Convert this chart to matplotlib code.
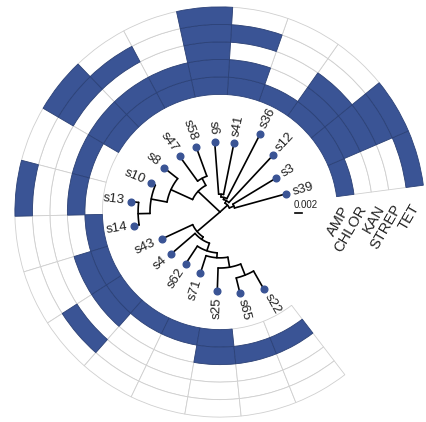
import numpy as np
import matplotlib
matplotlib.use('Agg')
import matplotlib.pyplot as plt
from matplotlib.patches import Wedge

plt.rcParams['font.family'] = ['Liberation Sans', 'DejaVu Sans']

# tips in drawing order (counter-clockwise), depths in units of 0.001
tips = ['s39', 's3', 's12', 's36', 's41', 's6', 's58', 's47', 's8', 's10',
        's13', 's14', 's43', 's4', 's62', 's71', 's25', 's65', 's22']
tip_depth = [19.6, 18.7, 22.1, 25.1, 20.1, 20.2, 19.8, 19.7, 20.4, 21.4,
             25.6, 24.8, 18.4, 18.5, 17.7, 18.4, 22.5, 23.7, 25.2]

# internal nodes, children listed before parents
node_names = ['n1', 'n2', 'n3', 'n4', 'U',
              'n5', 'n6', 'n7', 'n8', 'L',
              'n9', 'n10', 'n11', 'n12', 'n13', 'D', 'root']
node_children = [['s41', 's6'], ['s36', 'n1'], ['s12', 'n2'], ['s39', 's3'], ['n4', 'n3'],
                 ['s13', 's14'], ['s10', 'n5'], ['s8', 'n6'], ['s58', 's47'], ['n8', 'n7'],
                 ['s65', 's22'], ['s25', 'n9'], ['s71', 'n10'], ['s62', 'n11'], ['s4', 'n12'],
                 ['s43', 'n13'], ['U', 'L', 'D']]
node_depth = [5.1, 4.3, 3.7, 4.3, 2.9,
              23.4, 20.0, 15.4, 10.9, 8.6,
              19.4, 16.0, 13.1, 11.7, 9.4, 8.6, 0.0]

# resistance profile, one list per drug (inner ring first)
drugs = ['AMP', 'CHLOR', 'KAN', 'STREP', 'TET']
AMP = [1, 1, 1, 1, 1, 1, 1, 1, 1, 0, 0, 1, 1, 1, 1, 1, 1, 0, 0]
CHLOR = [0, 1, 1, 0, 1, 1, 1, 1, 1, 1, 1, 0, 1, 1, 0, 0, 1, 1, 1]
KAN = [0, 1, 1, 0, 0, 1, 0, 0, 0, 0, 0, 0, 0, 0, 0, 0, 0, 0, 0]
STREP = [0, 1, 0, 0, 1, 1, 0, 1, 1, 0, 0, 0, 0, 1, 0, 0, 0, 0, 0]
TET = [1, 1, 0, 0, 0, 1, 0, 0, 1, 0, 1, 0, 0, 0, 0, 0, 0, 0, 0]
heat = [AMP, CHLOR, KAN, STREP, TET]

blue = '#3a5495'
start = 7.5
span = 300.0
step = span / len(tips)
hm_inner = 33.6
hm_width = 5.0


def xy(r, a):
    t = np.deg2rad(a)
    return r * np.cos(t), r * np.sin(t)


fig = plt.figure(figsize=(4.26, 4.22), dpi=100)
ax = fig.add_axes([0, 0, 1, 1])
ax.set_xlim(-220 / 3.5, 206 / 3.5)
ax.set_ylim(-210 / 3.5, 212 / 3.5)
ax.axis('off')

# heatmap rings
for filled in [0, 1]:
    for j, row in enumerate(heat):
        r_out = hm_inner + (j + 1) * hm_width
        for i, v in enumerate(row):
            if v != filled:
                continue
            a0 = start + i * step
            w = Wedge((0, 0), r_out, a0, a0 + step, width=hm_width,
                      facecolor=blue if v else 'white',
                      edgecolor='#2c4278' if v else '#cfcfcf', lw=0.6)
            ax.add_patch(w)

# tree layout
angle = {}
depth = {}
for i, t in enumerate(tips):
    angle[t] = start + step * (i + 0.5)
    depth[t] = tip_depth[i]
for name, kids, d in zip(node_names, node_children, node_depth):
    angle[name] = np.mean([angle[k] for k in kids])
    depth[name] = d

for name, kids in zip(node_names, node_children):
    d = depth[name]
    ka = [angle[k] for k in kids]
    aa = np.linspace(min(ka), max(ka), 60)
    ax.plot(*xy(d, aa), color='black', lw=1.2, solid_capstyle='round')
    for k in kids:
        x0, y0 = xy(d, angle[k])
        x1, y1 = xy(depth[k], angle[k])
        ax.plot([x0, x1], [y0, y1], color='black', lw=1.2, solid_capstyle='round')

# tips and labels
for t in tips:
    x, y = xy(depth[t], angle[t])
    ax.plot(x, y, 'o', color=blue, ms=4.8, zorder=5)
    a = angle[t]
    lx, ly = xy(depth[t] + 2.0, a)
    if 90 < a < 270:
        ax.text(lx, ly, t, rotation=a - 180, ha='right', va='center',
                rotation_mode='anchor', fontsize=9.5, color='#222222')
    else:
        rot = a if a < 90 else a - 360
        ax.text(lx, ly, t, rotation=rot, ha='left', va='center',
                rotation_mode='anchor', fontsize=9.5, color='#222222')

# drug names under the ring ends
for j, dname in enumerate(drugs):
    x, y = xy(hm_inner + (j + 0.5) * hm_width, 2.0)
    ax.text(x, y, dname, rotation=60, ha='right', va='center',
            rotation_mode='anchor', fontsize=10.5, color='#222222')

# scale bar
ax.plot([75 / 3.5, 82 / 3.5], [-1.3 / 3.5, -1.3 / 3.5], color='black', lw=1.2)
ax.text(73.3 / 3.5, 6.5 / 3.5, '0.002', ha='left', va='center', fontsize=7, color='#222222')

fig.savefig('out.png', dpi=100)
